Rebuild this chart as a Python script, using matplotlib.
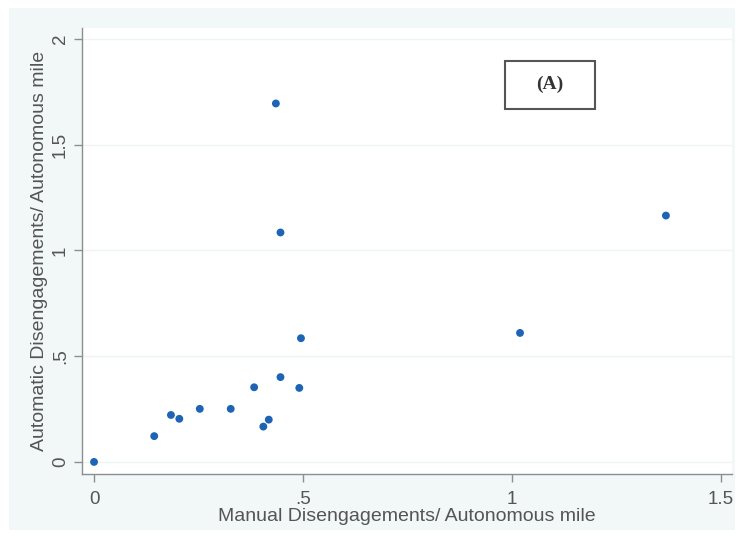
import numpy as np
import matplotlib.pyplot as plt
from matplotlib.patches import Rectangle

# Disengagements per autonomous mile
manual = [0.0, 0.144, 0.184, 0.204, 0.253, 0.327, 0.383, 0.405, 0.418,
          0.446, 0.491, 0.495, 0.435, 0.446, 1.019, 1.368]
automatic = [0.0, 0.122, 0.222, 0.204, 0.251, 0.251, 0.353, 0.167, 0.200,
             0.401, 0.350, 0.585, 1.695, 1.085, 0.610, 1.165]

x_ticks = [0, 0.5, 1, 1.5]
x_labels = ["0", ".5", "1", "1.5"]
y_ticks = [0, 0.5, 1, 1.5, 2]
y_labels = ["0", ".5", "1", "1.5", "2"]

plt.rcParams['font.family'] = ['Liberation Sans', 'DejaVu Sans']

fig = plt.figure(figsize=(7.39, 5.36), dpi=100)
fig.patch.set_facecolor("white")
# light panel behind the plot region
fig.patches.append(Rectangle((0.012, 0.011), 0.983, 0.974, transform=fig.transFigure,
                             facecolor="#f2f7f7", edgecolor="none", zorder=-10))

ax = fig.add_axes([0.111, 0.1157, 0.8795, 0.8321])
ax.set_facecolor("white")

ax.scatter(manual, automatic, s=32, color="#1e64b4", edgecolors="none", zorder=3)

ax.set_xlim(-0.0287, 1.526)
ax.set_ylim(-0.057, 2.052)
ax.set_xticks(x_ticks)
ax.set_xticklabels(x_labels)
ax.set_yticks(y_ticks)
ax.set_yticklabels(y_labels, rotation=90, va="center")

for y in y_ticks:
    ax.axhline(y, color="#eef3f3", lw=1.0, zorder=1)

for side in ["top", "right"]:
    ax.spines[side].set_visible(False)
for side in ["left", "bottom"]:
    ax.spines[side].set_color("#8a9090")
    ax.spines[side].set_linewidth(1.0)

ax.tick_params(axis="both", colors="#8a9090", length=6, width=1.0,
               labelcolor="#555555", labelsize=13.5)
ax.tick_params(axis="x", pad=6)

ax.set_xlabel("Manual Disengagements/ Autonomous mile", fontsize=14, color="#555555", labelpad=0)
ax.set_ylabel("Automatic Disengagements/ Autonomous mile", fontsize=14, color="#555555", labelpad=3)

ax.text(0.72, 0.874, "(A)", transform=ax.transAxes, ha="center", va="center",
        fontsize=14, fontweight="bold", family="Liberation Serif", color="#333333")
ax.add_patch(Rectangle((0.651, 0.818), 0.1385, 0.108, transform=ax.transAxes,
                       facecolor="none", edgecolor="#555555", lw=1.5, zorder=4))

fig.savefig("out.png", dpi=100)
